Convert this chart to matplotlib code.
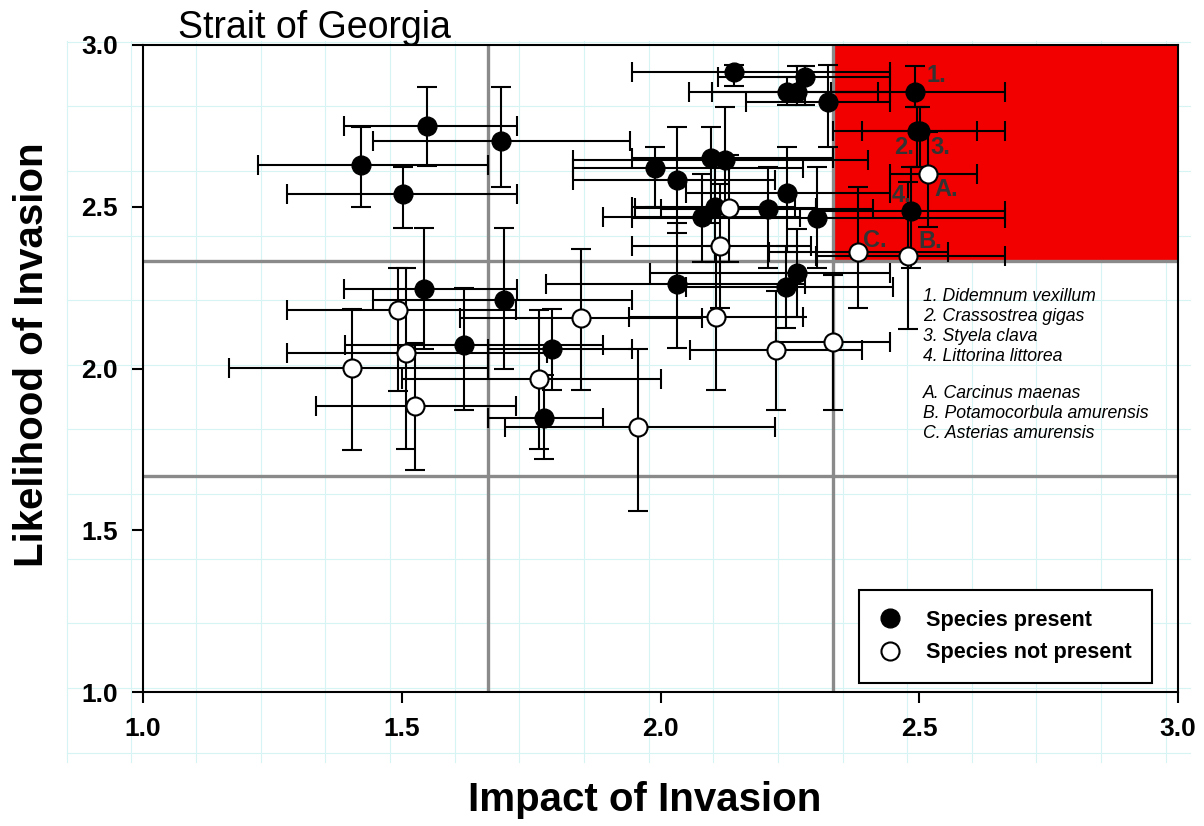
import numpy as np
import matplotlib
matplotlib.use('Agg')
from matplotlib import pyplot as plt
from matplotlib.patches import Rectangle
from matplotlib.lines import Line2D

plt.rcParams['font.family'] = ['Liberation Sans', 'DejaVu Sans']

# species present (filled): centre and error-bar ends
pres_x = [1.422, 1.502, 1.549, 1.692, 1.543, 1.698, 1.621, 1.791, 1.775, 1.990,
          2.031, 2.031, 2.081, 2.097, 2.125, 2.105, 2.142, 2.207, 2.245, 2.244,
          2.263, 2.280, 2.303, 2.324, 2.263, 2.242, 2.491, 2.495, 2.501, 2.485]
pres_y = [2.629, 2.539, 2.750, 2.704, 2.245, 2.212, 2.073, 2.059, 1.846, 2.619,
          2.583, 2.261, 2.469, 2.650, 2.645, 2.500, 2.917, 2.492, 2.544, 2.856,
          2.856, 2.900, 2.464, 2.825, 2.294, 2.251, 2.856, 2.734, 2.734, 2.488]
pres_xlo = [1.223, 1.278, 1.389, 1.444, 1.389, 1.445, 1.390, 1.667, 1.667, 1.831,
            1.831, 1.779, 1.889, 1.944, 1.831, 1.944, 1.944, 2.000, 2.050, 2.055,
            2.100, 2.111, 1.944, 2.166, 1.980, 2.050, 2.330, 2.389, 2.334, 2.300]
pres_xhi = [1.667, 1.722, 1.722, 1.941, 1.722, 1.944, 1.889, 1.944, 1.889, 2.275,
            2.221, 2.280, 2.270, 2.333, 2.400, 2.260, 2.443, 2.410, 2.443, 2.443,
            2.420, 2.443, 2.666, 2.443, 2.443, 2.450, 2.666, 2.611, 2.666, 2.666]
pres_ylo = [2.498, 2.435, 2.626, 2.562, 2.060, 1.998, 1.872, 1.934, 1.720, 2.500,
            2.420, 2.062, 2.330, 2.450, 2.480, 2.330, 2.873, 2.310, 2.360, 2.815,
            2.815, 2.815, 2.310, 2.686, 2.160, 2.124, 2.809, 2.624, 2.624, 2.310]
pres_yhi = [2.746, 2.624, 2.871, 2.871, 2.435, 2.435, 2.248, 2.183, 1.980, 2.686,
            2.747, 2.450, 2.600, 2.747, 2.809, 2.650, 2.938, 2.622, 2.684, 2.900,
            2.935, 2.935, 2.622, 2.938, 2.430, 2.380, 2.935, 2.809, 2.809, 2.624]

# species not present (open)
abs_x = [2.132, 2.115, 2.108, 1.846, 2.223, 2.334, 1.957, 1.766, 1.493, 1.508,
         1.404, 1.526, 2.516, 2.478, 2.382]
abs_y = [2.497, 2.380, 2.158, 2.155, 2.057, 2.083, 1.819, 1.967, 2.181, 2.047,
         2.001, 1.885, 2.601, 2.349, 2.361]
abs_xlo = [1.950, 1.944, 1.940, 1.613, 2.057, 2.224, 1.700, 1.500, 1.278, 1.278,
           1.167, 1.334, 2.443, 2.300, 2.210]
abs_xhi = [2.300, 2.290, 2.275, 2.080, 2.389, 2.443, 2.221, 2.000, 1.720, 1.780,
           1.667, 1.721, 2.611, 2.666, 2.556]
abs_ylo = [2.330, 2.187, 1.933, 1.934, 1.872, 1.872, 1.560, 1.750, 1.930, 1.750,
           1.748, 1.685, 2.438, 2.122, 2.186]
abs_yhi = [2.660, 2.570, 2.380, 2.370, 2.240, 2.290, 2.060, 2.180, 2.310, 2.310,
           2.183, 2.080, 2.730, 2.576, 2.562]

species_num = ['1. Didemnum vexillum', '2. Crassostrea gigas', '3. Styela clava',
               '4. Littorina littorea']
species_let = ['A. Carcinus maenas', 'B. Potamocorbula amurensis',
               'C. Asterias amurensis']


def errs(c, lo, hi):
    c = np.array(c)
    return [c - np.array(lo), np.array(hi) - c]


W, H = 1204, 826
fig = plt.figure(figsize=(W / 100, H / 100), dpi=100)

# faint page grid behind everything
gcol = '#d6f4f4'
for k in range(18):
    gx = (66.7 + 64.65 * k) / W
    fig.add_artist(Line2D([gx, gx], [1 - 762 / H, 1 - 41 / H], color=gcol, lw=0.8, zorder=0))
for k in range(12):
    gy = 1 - (752.7 - 64.65 * k) / H
    fig.add_artist(Line2D([66.7 / W, 1190 / W], [gy, gy], color=gcol, lw=0.8, zorder=0))

ax = fig.add_axes([143 / W, 1 - 692 / H, 1035 / W, 647 / H])
ax.patch.set_alpha(0)
ax.set_xlim(1, 3)
ax.set_ylim(1, 3)

ax.add_patch(Rectangle((7 / 3, 7 / 3), 2 / 3, 2 / 3, color='#f20000', zorder=1, lw=0))
for v in (5 / 3, 7 / 3):
    ax.axvline(v, color='#8a8a8a', lw=2.4, zorder=2)
    ax.axhline(v, color='#8a8a8a', lw=2.4, zorder=2)

ekw = dict(fmt='none', ecolor='black', elinewidth=1.5, capsize=7.5, capthick=1.5, zorder=3)
ax.errorbar(pres_x, pres_y, xerr=errs(pres_x, pres_xlo, pres_xhi),
            yerr=errs(pres_y, pres_ylo, pres_yhi), **ekw)
ax.errorbar(abs_x, abs_y, xerr=errs(abs_x, abs_xlo, abs_xhi),
            yerr=errs(abs_y, abs_ylo, abs_yhi), **ekw)
ax.plot(pres_x, pres_y, 'o', ms=13.5, mfc='black', mec='black', zorder=4,
        label='Species present')
ax.plot(abs_x, abs_y, 'o', ms=13, mfc='white', mec='black', mew=1.5, zorder=4,
        label='Species not present')

# point labels
lab = dict(color='#333333', fontsize=17, fontweight='bold', ha='left', va='center', zorder=5)
ax.text(2.514, 2.907, '1.', **lab)
ax.text(2.451, 2.682, '2.', **lab)
ax.text(2.521, 2.682, '3.', **lab)
ax.text(2.447, 2.536, '4.', **lab)
ax.text(2.530, 2.552, 'A.', **lab)
ax.text(2.498, 2.392, 'B.', **lab)
ax.text(2.392, 2.397, 'C.', **lab)

for i, s in enumerate(species_num):
    ax.text(2.507, 2.224 - i * 0.0618, s, fontsize=12.7, style='italic', va='center')
for i, s in enumerate(species_let):
    ax.text(2.507, 1.924 - i * 0.0625, s, fontsize=12.7, style='italic', va='center')

ticks = [1.0, 1.5, 2.0, 2.5, 3.0]
ax.set_xticks(ticks)
ax.set_yticks(ticks)
ax.set_xticklabels(['%.1f' % t for t in ticks])
ax.set_yticklabels(['%.1f' % t for t in ticks])
ax.tick_params(direction='out', length=8, width=1.5, labelsize=19, pad=10)
for t in ax.get_xticklabels() + ax.get_yticklabels():
    t.set_fontweight('bold')
for sp in ax.spines.values():
    sp.set_linewidth(1.5)
    sp.set_zorder(6)

leg = ax.legend(loc='lower left', bbox_to_anchor=(0.692, 0.014),
                fancybox=False, edgecolor='black', framealpha=1, borderaxespad=0,
                prop={'weight': 'bold', 'size': 15.6}, handletextpad=1.2,
                borderpad=0.9, labelspacing=0.55, handlelength=1.0)
leg.get_frame().set_linewidth(1.5)
leg.set_zorder(7)

fig.text(178 / W, 1 - 38 / H, 'Strait of Georgia', fontsize=27, va='baseline')
fig.text(645 / W, 1 - 800 / H, 'Impact of Invasion', fontsize=29, fontweight='bold',
         ha='center', va='center')
fig.text(32 / W, 1 - 355 / H, 'Likelihood of Invasion', fontsize=29, fontweight='bold',
         ha='center', va='center', rotation=90)

fig.savefig('out.png', dpi=100)
